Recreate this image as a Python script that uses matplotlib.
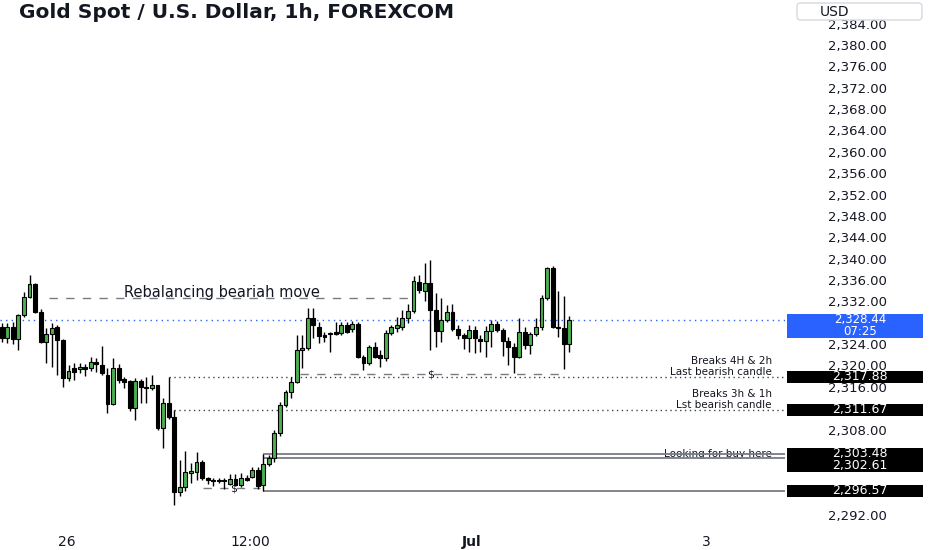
import matplotlib
matplotlib.use("Agg")
import matplotlib.pyplot as plt
import matplotlib.transforms as mtransforms
from matplotlib.patches import Rectangle, FancyBboxPatch
import numpy as np

# ---------------- data (hourly candles) ----------------
opens = [2327.2, 2325.1, 2327.2, 2325.0, 2329.4, 2332.8, 2335.2, 2330.0, 2324.4, 2325.8,
         2327.2, 2324.7, 2317.6, 2319.5, 2319.3, 2319.8, 2319.5, 2320.6, 2320.1, 2318.2,
         2312.8, 2319.5, 2317.5, 2317.0, 2312.0, 2317.1, 2316.0, 2315.8, 2316.3, 2308.3,
         2313.0, 2310.3, 2296.3, 2297.3, 2299.9, 2300.0, 2302.0, 2298.9, 2298.5, 2298.4,
         2298.5, 2297.9, 2298.7, 2297.7, 2298.9, 2299.1, 2300.4, 2297.6, 2301.5, 2302.6,
         2307.4, 2312.6, 2315.0, 2316.9, 2322.9, 2323.3, 2328.9, 2327.2, 2325.7, 2325.9,
         2326.3, 2326.1, 2327.6, 2326.8, 2327.8, 2321.6, 2320.5, 2323.5, 2322.0, 2321.4,
         2326.1, 2327.0, 2327.2, 2328.8, 2330.2, 2335.6, 2333.9, 2335.4, 2330.4, 2326.4,
         2328.5, 2330.0, 2326.8, 2325.7, 2325.1, 2326.6, 2325.0, 2324.6, 2326.4, 2327.8,
         2326.6, 2324.6, 2323.5, 2321.6, 2326.3, 2323.8, 2325.9, 2327.2, 2332.6, 2338.2,
         2327.2, 2327.0, 2324.0]
highs = [2328.0, 2328.0, 2328.2, 2329.6, 2333.7, 2336.9, 2335.5, 2330.5, 2327.0, 2327.9,
         2327.5, 2324.9, 2320.1, 2320.5, 2320.5, 2320.3, 2321.6, 2321.4, 2323.6, 2319.5,
         2321.4, 2320.3, 2317.8, 2317.2, 2317.6, 2317.4, 2317.8, 2318.2, 2316.4, 2313.9,
         2317.88, 2311.67, 2302.3, 2304.0, 2301.8, 2303.8, 2302.3, 2299.2, 2299.0, 2299.0,
         2299.0, 2299.7, 2299.7, 2299.9, 2299.4, 2301.0, 2301.0, 2303.48, 2303.2, 2307.9,
         2313.2, 2315.4, 2317.8, 2325.7, 2325.7, 2330.8, 2330.8, 2328.1, 2326.3, 2326.3,
         2328.1, 2328.1, 2328.1, 2328.3, 2328.1, 2322.0, 2323.8, 2324.4, 2322.9, 2326.6,
         2327.6, 2329.0, 2330.4, 2331.5, 2336.7, 2337.0, 2339.2, 2339.7, 2333.5, 2332.6,
         2331.4, 2331.5, 2327.5, 2326.1, 2327.6, 2327.4, 2325.7, 2327.4, 2328.5, 2328.3,
         2327.0, 2325.3, 2324.2, 2328.9, 2327.2, 2326.3, 2328.9, 2333.2, 2338.4, 2338.6,
         2334.0, 2333.0, 2329.3]
lows = [2324.4, 2324.2, 2324.0, 2322.9, 2329.1, 2332.6, 2329.8, 2324.2, 2320.5, 2319.7,
        2318.2, 2316.0, 2317.0, 2317.3, 2318.5, 2318.0, 2318.9, 2318.8, 2318.2, 2311.1,
        2312.6, 2316.7, 2315.8, 2311.5, 2309.8, 2313.0, 2313.0, 2315.5, 2307.9, 2304.5,
        2310.0, 2293.9, 2295.5, 2296.5, 2298.0, 2298.6, 2298.6, 2297.9, 2297.4, 2298.0,
        2296.9, 2297.6, 2297.4, 2297.2, 2298.4, 2298.9, 2296.8, 2296.57, 2301.2, 2302.0,
        2306.8, 2312.3, 2314.0, 2316.7, 2319.5, 2322.9, 2325.1, 2324.2, 2324.4, 2322.5,
        2325.7, 2325.7, 2326.1, 2326.3, 2321.4, 2319.1, 2320.1, 2321.4, 2319.7, 2320.9,
        2325.7, 2326.2, 2326.6, 2328.0, 2329.9, 2333.6, 2332.1, 2322.9, 2323.5, 2324.4,
        2328.2, 2326.4, 2325.0, 2323.0, 2322.6, 2322.4, 2322.5, 2321.6, 2323.5, 2326.2,
        2321.8, 2320.0, 2318.6, 2321.4, 2323.0, 2322.1, 2325.5, 2326.7, 2332.2, 2327.0,
        2325.3, 2319.3, 2322.6]
closes = [2325.1, 2327.2, 2325.0, 2329.4, 2332.8, 2335.2, 2330.0, 2324.4, 2325.8, 2327.0,
          2324.7, 2317.7, 2319.0, 2318.8, 2319.8, 2319.4, 2320.6, 2320.2, 2318.6, 2312.8,
          2319.5, 2317.3, 2316.9, 2312.0, 2317.0, 2316.0, 2315.7, 2316.3, 2308.3, 2313.0,
          2310.3, 2296.3, 2297.3, 2300.0, 2300.3, 2302.0, 2299.0, 2298.5, 2298.4, 2298.6,
          2298.3, 2298.7, 2297.7, 2298.9, 2298.6, 2300.4, 2297.5, 2301.6, 2302.61, 2307.4,
          2312.6, 2315.0, 2316.9, 2322.9, 2323.3, 2328.9, 2327.6, 2325.5, 2325.3, 2326.1,
          2325.9, 2327.6, 2326.3, 2327.8, 2321.6, 2320.5, 2323.5, 2321.6, 2321.4, 2326.1,
          2327.2, 2327.6, 2328.9, 2330.2, 2335.8, 2334.1, 2335.4, 2330.4, 2326.4, 2328.5,
          2330.0, 2326.8, 2325.7, 2325.1, 2326.6, 2325.1, 2324.6, 2326.4, 2327.8, 2326.6,
          2324.6, 2323.5, 2321.6, 2326.3, 2323.8, 2325.9, 2327.2, 2332.6, 2338.2, 2327.2,
          2327.0, 2324.0, 2328.44]

time_tick_pos = [11.7, 44.6, 84.5, 126.6]
time_tick_labels = ["26", "12:00", "Jul", "3"]

price_ticks = list(range(2292, 2385, 4))
hidden_price_ticks = [2328, 2312, 2304, 2300, 2296]   # covered by price tags

level_prices = [2317.88, 2311.67, 2303.48, 2302.61, 2296.57]
countdown = "07:25"

title = "Gold Spot / U.S. Dollar, 1h, FOREXCOM"

# ---------------- figure ----------------
TXT = "#131722"
GREEN = "#4caf50"
GRAY = "#787b86"
BLUE = "#2962ff"

fig = plt.figure(figsize=(9.32, 5.5), dpi=100)
fig.patch.set_facecolor("white")
ax = fig.add_axes([0.0, 22 / 550, 785 / 932, 528 / 550])
ax.set_facecolor("white")

o = np.array(opens); h = np.array(highs); l = np.array(lows); c = np.array(closes)
x = np.arange(len(o))
up = c >= o
bot = np.minimum(o, c)
hgt = np.maximum(np.abs(c - o), 0.15)

ax.vlines(x, l, h, color="black", lw=1.0, zorder=3)
ax.bar(x[up], hgt[up], bottom=bot[up], width=0.7, color=GREEN,
       edgecolor="black", lw=0.8, zorder=4)
ax.bar(x[~up], hgt[~up], bottom=bot[~up], width=0.7, color="black",
       edgecolor="black", lw=0.8, zorder=4)

ax.set_xlim(-0.31, 140.75)
ax.set_ylim(2289.57, 2388.43)
xr = ax.get_xlim()[1]
px = (ax.get_ylim()[1] - ax.get_ylim()[0]) / 528.0   # price per pixel

# current price dotted line
last = closes[-1]
ax.axhline(last, color=BLUE, ls=(0, (1, 3)), lw=1.0, zorder=2)

# dotted structure levels
ax.hlines(level_prices[0], 30, xr, colors="#444444", linestyles=(0, (1, 2.5)), lw=1.0, zorder=2)
ax.hlines(level_prices[1], 31, xr, colors="#444444", linestyles=(0, (1, 2.5)), lw=1.0, zorder=2)
# solid buy zone levels
for p in level_prices[2:]:
    ax.hlines(p, 47, xr, colors=GRAY, lw=1.3, zorder=2)

# dashed rebalancing line
ax.hlines(2332.64, 8.5, 73, colors=GRAY, linestyles=(0, (6, 6)), lw=1.0, zorder=2)
ax.text(39.6, 2332.64 + 5.5 * px, "Rebalancing beariah move", fontsize=10.5, color=TXT,
        ha="center", va="center", zorder=2)

# dashed liquidity lines with $
ax.hlines(2318.4, 53.6, 100.3, colors=GRAY, linestyles=(0, (6, 6)), lw=1.0, zorder=2)
ax.text(77, 2318.4, "$", fontsize=8, color=TXT, ha="center", va="center", zorder=2,
        bbox=dict(facecolor="white", edgecolor="none", pad=0.5))
ax.hlines(2297.1, 36.2, 46.4, colors=GRAY, linestyles=(0, (6, 6)), lw=1.0, zorder=2)
ax.text(41.6, 2296.9, "$", fontsize=8, color=TXT, ha="center", va="center", zorder=2)

# right-side notes
xn = 138.4
nfs = 7.5
ax.text(xn, 2319.9 + 5.5 * px, "Breaks 4H & 2h", fontsize=nfs, color=TXT, ha="right", va="center", zorder=5)
ax.text(xn, 2319.9 - 5.5 * px, "Last bearish candle", fontsize=nfs, color=TXT, ha="right", va="center", zorder=5)
ax.text(xn, 2313.6 + 5.5 * px, "Breaks 3h & 1h", fontsize=nfs, color=TXT, ha="right", va="center", zorder=5)
ax.text(xn, 2313.6 - 5.5 * px, "Lst bearish candle", fontsize=nfs, color=TXT, ha="right", va="center", zorder=5)
ax.text(xn, 2303.4, "Looking for buy here", fontsize=nfs, color=TXT, ha="right", va="center", zorder=1)

# axes styling
for s in ax.spines.values():
    s.set_visible(False)
ax.yaxis.tick_right()
ax.set_yticks(price_ticks)
ax.set_yticklabels(["" if v in hidden_price_ticks else f"{v:,.2f}" for v in price_ticks])
ax.tick_params(axis="y", length=0, pad=31, labelsize=9.5, labelcolor=TXT)
ax.set_xticks(time_tick_pos)
ax.set_xticklabels(time_tick_labels)
ax.tick_params(axis="x", length=0, pad=5, labelsize=10, labelcolor=TXT)
ax.get_xticklabels()[2].set_fontweight("bold")

# price tags on the scale
trans = mtransforms.blended_transform_factory(ax.transAxes, ax.transData)
bx0, bw, tx = 787 / 785, 136 / 785, 860 / 785
bh = 12 * px
tfs = 9

prev = None
for p in sorted(level_prices, reverse=True):
    yc = p if prev is None else min(p, prev - bh)
    prev = yc
    ax.add_patch(Rectangle((bx0, yc - bh / 2), bw, bh, transform=trans, clip_on=False,
                           facecolor="black", edgecolor="none", zorder=6))
    ax.text(tx, yc, f"{p:,.2f}", transform=trans, ha="center", va="center",
            color="white", fontsize=tfs, clip_on=False, zorder=7)

ax.add_patch(Rectangle((bx0, last - 18 * px), bw, 24 * px, transform=trans, clip_on=False,
                       facecolor=BLUE, edgecolor="none", zorder=6))
ax.text(tx, last + 0.5 * px, f"{last:,.2f}", transform=trans, ha="center", va="center",
        color="white", fontsize=8.5, clip_on=False, zorder=7)
ax.text(tx, last - 11 * px, countdown, transform=trans, ha="center", va="center",
        color="white", fontsize=8.5, clip_on=False, zorder=7)

# title and currency box
fig.text(19 / 932, 1 - 12 / 550, title, fontsize=14.5, fontweight="bold", color=TXT,
         ha="left", va="center")
fig.add_artist(FancyBboxPatch((797 / 932, 1 - 20 / 550), 125 / 932, 17 / 550,
                              boxstyle="round,pad=0,rounding_size=0.004",
                              mutation_aspect=932 / 550, transform=fig.transFigure,
                              facecolor="white", edgecolor="#d6d9e0", lw=1.0))
fig.text(820 / 932, 1 - 11.5 / 550, "USD", fontsize=10, color=TXT, ha="left", va="center")

fig.savefig("out.png", dpi=100, facecolor="white")
